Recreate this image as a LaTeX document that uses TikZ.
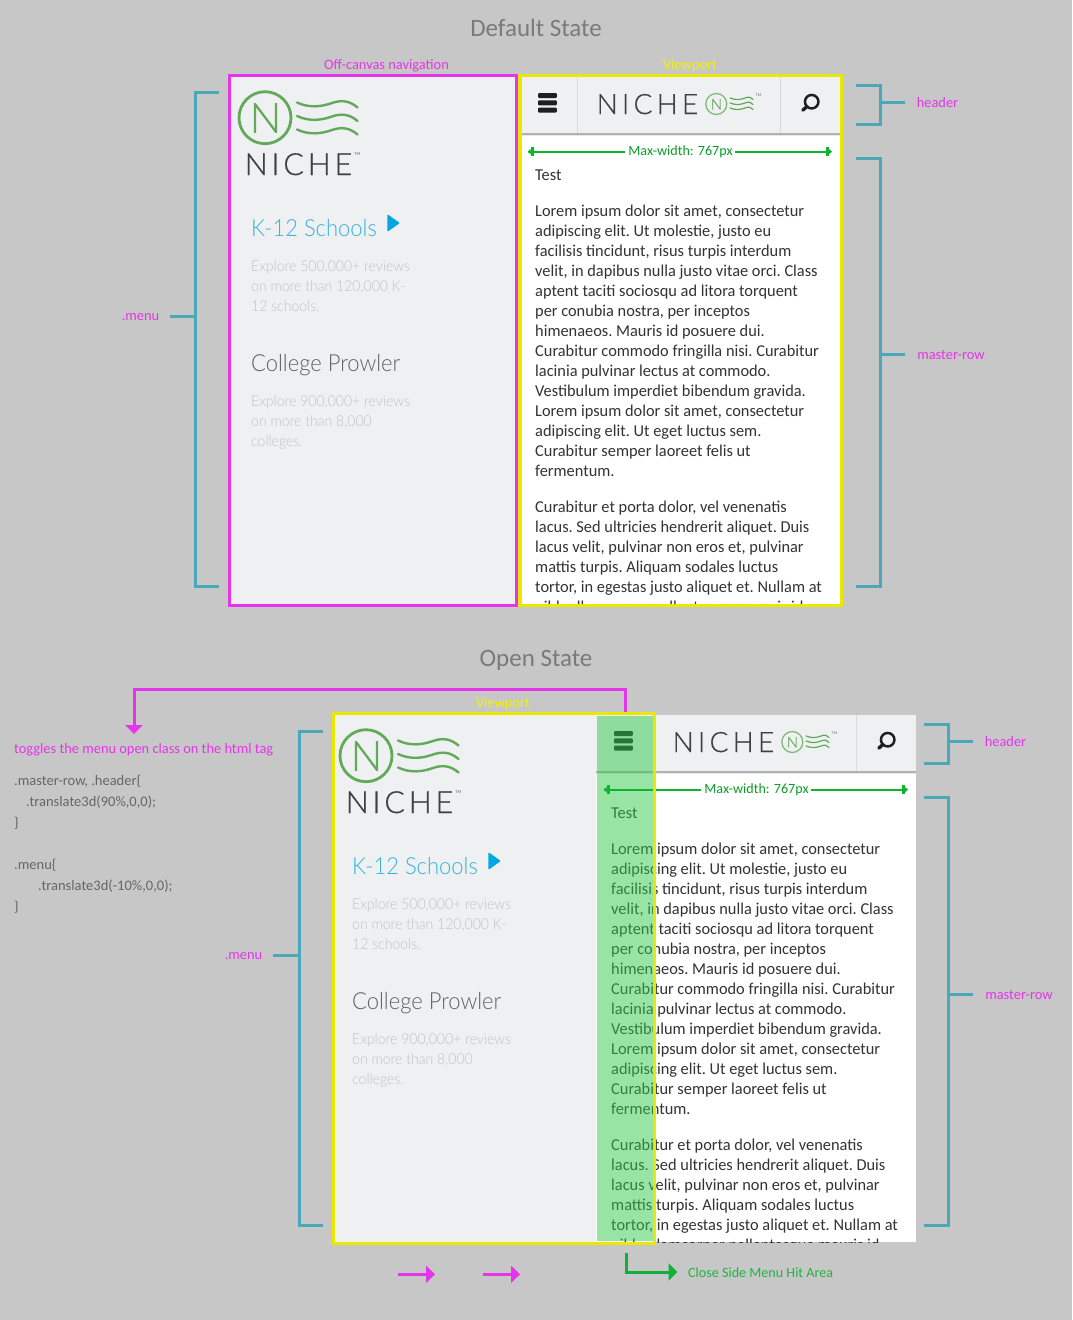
\documentclass[tikz,border=0pt]{standalone}
\usepackage{fontspec}
\usetikzlibrary{arrows.meta}
\setmainfont{Carlito}
\newfontfamily\bodyfont[FakeStretch=0.985]{Carlito}
\newfontfamily\lightfont[FakeStretch=0.935]{Lato Light}
\newfontfamily\logofont[FakeBold=0.6]{Lato Light}
\definecolor{bgc}{HTML}{C7C7C7}
\definecolor{mag}{HTML}{E535EA}
\definecolor{yel}{HTML}{E8E800}
\definecolor{yeltext}{HTML}{F2F200}
\definecolor{teal}{HTML}{4AA8B8}
\definecolor{panel}{HTML}{EFF0F2}
\definecolor{logog}{HTML}{63A95A}
\definecolor{dimg}{HTML}{0CB52C}
\definecolor{dimt}{HTML}{0A9E28}
\definecolor{hitg}{HTML}{31CB4C}
\definecolor{bodyt}{HTML}{333333}
\definecolor{kblue}{HTML}{39B1DC}
\definecolor{tri}{HTML}{00A7E1}
\definecolor{arrg}{HTML}{10B03A}
\definecolor{lblg}{HTML}{1DB53F}
\tikzset{
  bodytext/.style={anchor=base west,inner sep=0pt,text=bodyt,font=\bodyfont\frenchspacing\fontsize{16.6}{20}\selectfont},
  faint/.style={anchor=base west,inner sep=0pt,text=black!24,font=\lightfont\fontsize{15}{20}\selectfont},
  bigtext/.style={anchor=base west,inner sep=0pt,font=\lightfont\fontsize{23.5}{28}\selectfont},
  notelabel/.style={inner sep=0pt,text=mag,font=\fontsize{14.4}{16}\selectfont},
  codetext/.style={anchor=base west,inner sep=0pt,text=black!60,font=\fontsize{14.5}{16}\selectfont},
  titletext/.style={inner sep=0pt,text=black!52,font=\fontsize{25}{28}\selectfont},
  bracketline/.style={draw=teal,line width=3pt},
  wave/.style={draw=logog,line width=2.4pt,line cap=round},
  bigarrow/.style={line width=3pt,-{Triangle[length=9pt,width=17pt]}},
}
% name, x of tick ends, x of spine, top, bottom, mid y, x of stub end
\newcommand{\sidebracket}[7]{%
  \coordinate (#1-a) at (#2,#4);
  \coordinate (#1-b) at (#3,#4);
  \coordinate (#1-c) at (#3,#5);
  \coordinate (#1-d) at (#2,#5);
  \coordinate (#1-m) at (#3,#6);
  \coordinate (#1-s) at (#7,#6);
  \draw[bracketline] (#1-a) -- (#1-b) -- (#1-c) -- (#1-d);
  \draw[bracketline] (#1-m) -- (#1-s);
}
\newcommand{\menucontent}[1]{%
  \node[circle,draw=logog,line width=2.8pt,minimum size=52pt,inner sep=0pt] (#1-ring) at (265,117.7) {};
  \node[inner sep=0pt,text=logog,font=\logofont\fontsize{42}{42}\selectfont] (#1-ringN) at (265.5,118) {N};
  \draw[wave] (297,102.5) .. controls (310,108.5) and (322,106.5) .. (332,103) .. controls (342,99.5) and (350,101) .. (357.5,107.5);
  \draw[wave] (297,116) .. controls (310,122) and (322,120) .. (332,116.5) .. controls (342,113) and (350,114.5) .. (357.5,121);
  \draw[wave] (297,129.5) .. controls (310,135.5) and (322,133.5) .. (332,130) .. controls (342,126.5) and (350,128) .. (357.5,134.5);
  \node[anchor=base west,inner sep=0pt,text=black!75,font=\logofont\fontsize{30.5}{30}\selectfont\addfontfeature{LetterSpace=12.5}] (#1-niche) at (244.5,175) {NICHE};
  \node[inner sep=0pt,text=black!60,font=\fontsize{4.5}{5}\selectfont] (#1-tm) at (357.5,154.5) {TM};
  \node[bigtext,text=kblue] (#1-k12) at (251,236.5) {K-12 Schools};
  \fill[tri,draw=tri,line width=1.5pt,line join=round] (388,215.5) -- (398.5,223) -- (388,230.5) -- cycle;
  \foreach \yy/\txt in {271/{Explore 500,000+ reviews},291/{on more than 120,000 K-},311/{12 schools.},406/{Explore 900,000+ reviews},426/{on more than 8,000},446/{colleges.}}{
    \node[faint] (#1-f\yy) at (251,\yy) {\txt};
  }
  \node[bigtext,text=black!62] (#1-college) at (251,371.5) {College Prowler};
}
\newcommand{\mastercontent}[1]{%
  \fill[white] (520,77) rectangle (840,604);
  \fill[panel] (520,77) rectangle (840,133);
  \fill[black!9] (520,135) rectangle (840,136);
  \fill[black!30] (520,133) rectangle (840,135);
  \draw[black!15,line width=1pt] (577.7,77) -- (577.7,133);
  \draw[black!15,line width=1pt] (780.7,77) -- (780.7,133);
  \foreach \yy in {93,100.3,107.6}{ \fill[black!88,rounded corners=1pt] (538,\yy) rectangle (556.8,\yy+5); }
  \node[anchor=base west,inner sep=0pt,text=black!75,font=\logofont\fontsize{28}{28}\selectfont\addfontfeature{LetterSpace=15}] (#1-niche) at (596.5,114) {NICHE};
  \node[circle,draw=logog!85,line width=1.2pt,minimum size=21pt,inner sep=0pt] (#1-ring) at (716.3,104) {};
  \node[inner sep=0pt,text=logog,font=\logofont\fontsize{15}{15}\selectfont] (#1-ringN) at (716.4,104.2) {N};
  \draw[wave,line width=1.2pt] (730,98) .. controls (736,100.5) and (741,99.5) .. (745,98) .. controls (749,96.5) and (751,97) .. (753,99.5);
  \draw[wave,line width=1.2pt] (730,103) .. controls (736,105.5) and (741,104.5) .. (745,103) .. controls (749,101.5) and (751,102) .. (753,104.5);
  \draw[wave,line width=1.2pt] (730,108) .. controls (736,110.5) and (741,109.5) .. (745,108) .. controls (749,106.5) and (751,107) .. (753,109.5);
  \node[inner sep=0pt,text=black!60,font=\fontsize{4}{5}\selectfont] (#1-tm) at (758.5,95.5) {TM};
  \node[circle,draw=black!88,line width=2.5pt,minimum size=13.5pt,inner sep=0pt] (#1-lens) at (811.7,101.7) {};
  \coordinate (#1-handle) at (802.8,110.2);
  \coordinate (#1-hs) at (807,106.4);
  \draw[black!88,line width=3.4pt,line cap=round] (#1-hs) -- (#1-handle);
  \begin{scope}
    \clip (520,136) rectangle (840,604);
    \node[bodytext] (#1-test) at (535,180.5) {Test};
    \foreach \yy/\txt in {216/{Lorem ipsum dolor sit amet, consectetur},236/{adipiscing elit. Ut molestie, justo eu},256/{facilisis tincidunt, risus turpis interdum},276/{velit, in dapibus nulla justo vitae orci. Class},296/{aptent taciti sociosqu ad litora torquent},316/{per conubia nostra, per inceptos},336/{himenaeos. Mauris id posuere dui.},356/{Curabitur commodo fringilla nisi. Curabitur},376/{lacinia pulvinar lectus at commodo.},396/{Vestibulum imperdiet bibendum gravida.},416/{Lorem ipsum dolor sit amet, consectetur},436/{adipiscing elit. Ut eget luctus sem.},456/{Curabitur semper laoreet felis ut},476/{fermentum.},512/{Curabitur et porta dolor, vel venenatis},532/{lacus. Sed ultricies hendrerit aliquet. Duis},552/{lacus velit, pulvinar non eros et, pulvinar},572/{mattis turpis. Aliquam sodales luctus},592/{tortor, in egestas justo aliquet et. Nullam at},612/{nibh ullamcorper pellentesque mauris id}}{
      \node[bodytext] (#1-t\yy) at (535,\yy+.5) {\txt};
    }
  \end{scope}
}
\newcommand{\dimension}[1]{%
  \node[inner sep=0pt,text=dimt,font=\fontsize{14.1}{16}\selectfont] (#1-maxw) at (680.5,151.3) {Max-width: 767px};
  \coordinate (#1-dl) at (527.5,151.7);
  \coordinate (#1-dla) at (625,151.7);
  \coordinate (#1-dra) at (735,151.7);
  \coordinate (#1-dr) at (832,151.7);
  \draw[draw=dimg,line width=2pt,{Triangle[length=3pt,width=5pt]Rectangle[length=3pt,width=9pt]}-] (#1-dl) -- (#1-dla);
  \draw[draw=dimg,line width=2pt,-{Rectangle[length=3pt,width=9pt]Triangle[length=3pt,width=5pt]}] (#1-dra) -- (#1-dr);
}
\begin{document}
\begin{tikzpicture}[x=1pt,y=-1pt]
\useasboundingbox (0,0) rectangle (1072,1320);
\fill[bgc] (0,0) rectangle (1072,1320);

% ---------- default state ----------
\node[titletext] (title1) at (536,28) {Default State};
\node[notelabel] (offlabel) at (386.5,65.5) {Off-canvas navigation};
\node[notelabel,text=yeltext] (vp1) at (690,65.5) {Viewport};
\fill[panel] (231,77) rectangle (515,604);
\menucontent{dm}
\draw[mag,line width=3pt] (229.5,75.5) rectangle (516.5,605.5);
\mastercontent{dc}
\dimension{dd}
\draw[yel,line width=3.4pt] (520,75.7) rectangle (841.3,605.3);
\sidebracket{b1}{219}{195.5}{92.5}{586}{316}{170}
\node[notelabel] (lmenu1) at (140.5,317) {.menu};
\sidebracket{b2}{856}{880}{85}{124.5}{102}{905}
\node[notelabel] (lhead1) at (937.5,103) {header};
\sidebracket{b3}{856}{880}{158}{586}{354}{905}
\node[notelabel] (lrow1) at (951,355) {master-row};

% ---------- open state ----------
\node[titletext] (title2) at (536,660) {Open State};
\node[notelabel,text=yeltext] (vp2) at (503,703.5) {Viewport};
\fill[panel] (333,715) rectangle (653,1243);
\begin{scope}[shift={(101,638)}]
  \menucontent{om}
\end{scope}
\begin{scope}[shift={(76,638)}]
  \mastercontent{oc}
\end{scope}
\fill[hitg,fill opacity=.5] (597,716) rectangle (653,1241);
\begin{scope}[shift={(76,638)}]
  \dimension{od}
\end{scope}
\draw[yel,line width=3.4pt] (333.5,713.5) rectangle (654.5,1243.5);
\sidebracket{b4}{323}{299.5}{731}{1225}{955}{273}
\node[notelabel] (lmenu2) at (243.5,956) {.menu};
\sidebracket{b5}{924}{948}{724}{763.5}{741}{973}
\node[notelabel] (lhead2) at (1005.5,742) {header};
\sidebracket{b6}{924}{948}{797}{1225}{994}{973}
\node[notelabel] (lrow2) at (1019,995) {master-row};

% ---------- open state notes ----------
\node[notelabel,anchor=base west] (toggle) at (14,753) {toggles the menu open class on the html tag};
\node[codetext] (c1) at (14,785) {.master-row, .header\{};
\node[codetext] (c2) at (26,806) {.translate3d(90\%,0,0);};
\node[codetext] (c3) at (14,827) {\}};
\node[codetext] (c4) at (14,869) {.menu\{};
\node[codetext] (c5) at (38,890) {.translate3d(-10\%,0,0);};
\node[codetext] (c6) at (14,911) {\}};

\coordinate (tstart) at (625,712);
\coordinate (tcorner) at (625,689);
\coordinate (tcorner2) at (134,689);
\coordinate (tend) at (134,734);
\draw[mag,bigarrow] (tstart) -- (tcorner) -- (tcorner2) -- (tend);

\coordinate (a1s) at (398,1274.3);
\coordinate (a1e) at (435,1274.3);
\coordinate (a2s) at (483,1274.3);
\coordinate (a2e) at (520,1274.3);
\draw[mag,bigarrow] (a1s) -- (a1e);
\draw[mag,bigarrow] (a2s) -- (a2e);

\coordinate (gs) at (626,1253);
\coordinate (gc) at (626,1272);
\coordinate (ge) at (677.5,1272);
\draw[arrg,bigarrow] (gs) -- (gc) -- (ge);
\node[inner sep=0pt,text=lblg,anchor=base west,font=\fontsize{14.1}{16}\selectfont] (hitlabel) at (688,1277) {Close Side Menu Hit Area};
\end{tikzpicture}
\end{document}
